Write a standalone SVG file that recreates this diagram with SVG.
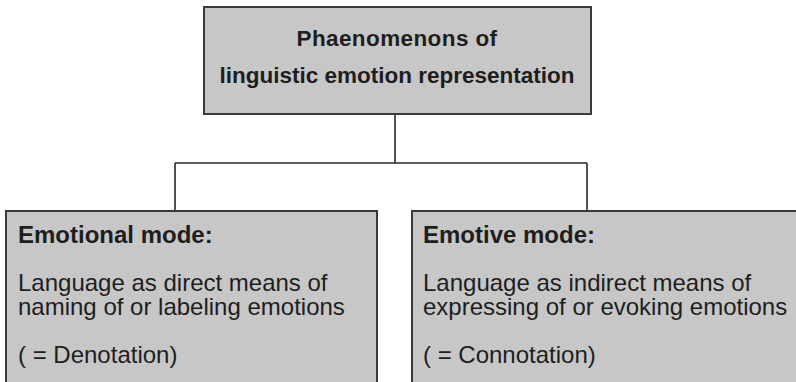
<svg xmlns="http://www.w3.org/2000/svg" width="796" height="382" viewBox="0 0 796 382">
  <style>
    .box { fill: #c7c7c7; stroke: #3a3a3a; stroke-width: 2; }
    .link { fill: none; stroke: #2a2a2a; stroke-width: 1.6; }
    text { font-family: "Liberation Sans", Arial, sans-serif; fill: #1e1e1e; font-size: 24px; }
    .title { font-weight: bold; text-anchor: middle; font-size: 22.5px; }
    .head { font-weight: bold; }
  </style>

  <!-- connectors -->
  <g id="connectors">
    <path class="link" d="M395,114 V163 M175,163 H587 M175,163 V211 M587,163 V211"/>
  </g>

  <!-- root node -->
  <g id="root">
    <rect class="box" x="204" y="7" width="387" height="107"/>
    <text class="title" x="397" y="46" letter-spacing="0.4">Phaenomenons of</text>
    <text class="title" x="397" y="83">linguistic emotion representation</text>
  </g>

  <!-- left child -->
  <g id="emotional">
    <rect class="box" x="6" y="211" width="371" height="190"/>
    <text class="head" x="18" y="243">Emotional mode:</text>
    <text x="18" y="291">Language as direct means of</text>
    <text x="18" y="315">naming of or labeling emotions</text>
    <text x="18" y="363">( = Denotation)</text>
  </g>

  <!-- right child -->
  <g id="emotive">
    <rect class="box" x="412" y="211" width="400" height="190"/>
    <text class="head" x="423" y="243">Emotive mode:</text>
    <text x="423" y="291">Language as indirect means of</text>
    <text x="423" y="315">expressing of or evoking emotions</text>
    <text x="423" y="363">( = Connotation)</text>
  </g>
</svg>
